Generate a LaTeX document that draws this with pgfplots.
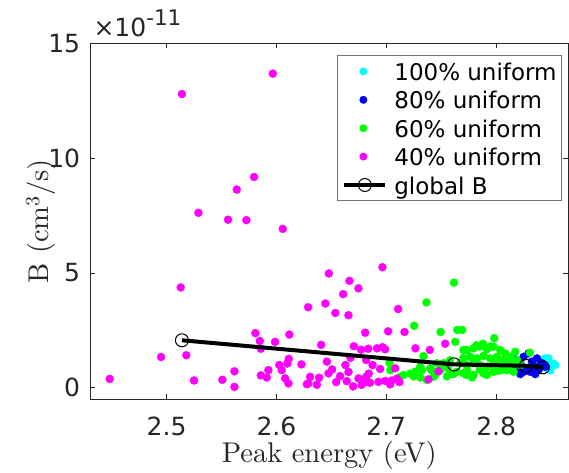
\documentclass[border=0pt]{standalone}
\usepackage{fontspec}
\usepackage{pgfplots}
\usepackage{pgfplotstable}
\pgfplotsset{compat=1.18}
\newfontfamily\dejavu{DejaVu Sans}
\newfontfamily\lmten{lmroman10-regular.otf}
\definecolor{mgray}{rgb}{0.15,0.15,0.15}
\definecolor{mcyan}{rgb}{0,1,1}
\definecolor{mblue}{rgb}{0,0,1}
\definecolor{mgreen}{rgb}{0,1,0}
\definecolor{mmagenta}{rgb}{1,0,1}

% 100% uniform
\pgfplotstableread{
x y
2.8432 1.21
2.8447 1.28
2.8463 1.14
2.8477 1.28
2.8493 0.77
2.8508 0.99
2.8520 1.05
2.8538 0.99
2.8460 0.85
}\datacyan

% 80% uniform
\pgfplotstableread{
x y
2.8159 1.28
2.8190 0.99
2.8200 0.85
2.8220 0.60
2.8220 1.07
2.8250 1.35
2.8250 0.70
2.8280 0.85
2.8295 1.50
2.8310 0.70
2.8326 1.14
2.8340 0.95
2.8356 0.60
2.8372 1.28
2.8386 0.77
2.8400 0.90
2.8417 1.07
2.8447 0.92
}\datablue

% 60% uniform
\pgfplotstableread{
x y
2.7029 1.09
2.7036 0.77
2.7127 0.48
2.7157 0.56
2.7218 0.62
2.7250 0.50
2.7254 2.70
2.7263 0.70
2.7309 0.45
2.7309 0.92
2.7324 0.77
2.7339 1.38
2.7366 3.72
2.7370 0.34
2.7400 0.85
2.7415 0.74
2.7430 0.48
2.7450 0.60
2.7461 1.07
2.7491 0.77
2.7494 2.43
2.7521 1.07
2.7552 0.50
2.7560 0.85
2.7580 1.20
2.7597 0.60
2.7612 0.60
2.7616 4.58
2.7628 2.00
2.7643 0.70
2.7646 2.52
2.7673 1.07
2.7691 2.52
2.7700 1.30
2.7703 1.65
2.7703 0.63
2.7728 0.56
2.7734 1.65
2.7734 0.99
2.7734 0.77
2.7764 1.35
2.7780 0.45
2.7794 1.72
2.7794 1.07
2.7794 0.56
2.7820 1.85
2.7825 1.28
2.7849 1.79
2.7850 0.80
2.7855 0.99
2.7880 1.92
2.7885 1.39
2.7885 0.63
2.7916 1.68
2.7916 0.92
2.7916 0.56
2.7946 1.28
2.7950 1.80
2.7976 1.79
2.7976 0.99
2.7976 0.70
2.7983 2.16
2.8000 1.10
2.8007 1.35
2.8022 0.74
2.8037 1.65
2.8037 0.92
2.8053 0.77
2.8067 1.21
2.8083 1.50
2.8098 1.07
2.8098 0.77
2.8128 1.35
2.8144 0.92
2.8150 1.20
2.8159 0.70
2.8174 1.57
2.8190 1.21
2.8220 0.99
2.8308 1.53
}\datagreen

% 40% uniform
\pgfplotstableread{
x y
2.4483 0.39
2.4950 1.34
2.5129 4.37
2.5140 12.79
2.5180 1.42
2.5250 0.32
2.5290 7.62
2.5508 0.35
2.5560 7.32
2.5618 0.72
2.5618 0.04
2.5639 8.63
2.5727 7.30
2.5797 9.18
2.5809 2.38
2.5849 2.04
2.5858 1.70
2.5858 0.54
2.5912 0.45
2.5927 0.77
2.5967 13.68
2.5988 2.00
2.6027 0.99
2.6049 0.77
2.6058 6.92
2.6080 0.41
2.6100 1.06
2.6110 0.19
2.6113 1.26
2.6118 2.32
2.6228 1.02
2.6277 0.16
2.6289 3.51
2.6291 0.19
2.6307 0.48
2.6368 0.13
2.6389 0.44
2.6407 1.87
2.6446 3.67
2.6459 1.14
2.6474 0.63
2.6477 4.98
2.6507 0.80
2.6537 3.26
2.6544 0.25
2.6580 0.51
2.6607 4.08
2.6628 0.99
2.6641 0.29
2.6656 3.16
2.6656 0.69
2.6665 4.66
2.6674 1.31
2.6698 0.06
2.6705 1.81
2.6747 4.33
2.6747 0.41
2.6771 1.66
2.6775 0.13
2.6799 0.22
2.6808 2.40
2.6817 1.21
2.6817 0.48
2.6840 0.62
2.6837 1.70
2.6853 0.22
2.6875 0.99
2.6915 1.72
2.6929 0.26
2.6944 0.82
2.6965 5.25
2.6966 1.77
2.6990 1.68
2.6990 0.30
2.7017 2.46
2.7035 0.15
2.7051 0.32
2.7081 0.85
2.7097 0.40
2.7108 3.43
2.7120 0.25
2.7166 2.43
2.7266 1.72
2.7384 0.37
2.7397 1.65
2.7475 0.72
2.7536 1.92
}\datamagenta

% global B
\pgfplotstableread{
x y
2.5140 2.07
2.7616 1.02
2.8271 0.96
2.8426 0.89
}\dataglobal

\begin{document}
\begin{tikzpicture}
\begin{axis}[
  scale only axis, width=478pt, height=356pt,
  xmin=2.4306, xmax=2.8657, ymin=-0.5, ymax=15,
  xtick={2.5,2.6,2.7,2.8}, ytick={0,5,10,15},
  scaled ticks=false,
  clip mode=individual, clip marker paths=true,
  tick align=inside, major tick length=5pt,
  axis line style={mgray, line width=0.8pt},
  every tick/.style={mgray, line width=0.8pt},
  /pgf/number format/assume math mode=true,
  ticklabel style={font=\dejavu\fontsize{25}{30}\selectfont, text=mgray},
  xticklabel style={anchor=north, inner sep=0pt, yshift=-17pt},
  yticklabel style={anchor=east, inner sep=0pt, xshift=-10pt},
  xlabel={Peak energy (eV)},
  ylabel={B (cm\textsuperscript{3}/s)},
  xlabel style={at={(axis description cs:0.5,-0.177)}, anchor=base,
    font=\lmten\fontsize{28.5}{34}\selectfont, text=mgray},
  ylabel style={at={(axis description cs:-0.088,0.5)}, anchor=base,
    font=\lmten\fontsize{28.5}{34}\selectfont, text=mgray},
  legend cell align=left,
  legend style={at={(0.5167,0.966)}, anchor=north west,
    draw=black!55, line width=0.8pt, fill=white,
    inner xsep=4.7pt, inner ysep=4.6pt, row sep=6.4pt, column sep=7pt,
    font=\dejavu\fontsize{23}{27}\selectfont,
    nodes={inner sep=0pt, text height=20pt, text depth=2pt}},
]
\addplot[only marks, mark=*, mark size=4pt, color=mcyan,
  legend image code/.code={\path[draw=none] (0pt,0pt) -- (41pt,0pt); \fill[mcyan, draw=none] (19pt,0pt) circle (4pt);}]
  table[x=x, y=y] {\datacyan};
\addlegendentry{100\% uniform}
\addplot[only marks, mark=*, mark size=4pt, color=mblue,
  legend image code/.code={\path[draw=none] (0pt,0pt) -- (41pt,0pt); \fill[mblue, draw=none] (19pt,0pt) circle (4pt);}]
  table[x=x, y=y] {\datablue};
\addlegendentry{80\% uniform}
\addplot[only marks, mark=*, mark size=4pt, color=mgreen,
  legend image code/.code={\path[draw=none] (0pt,0pt) -- (41pt,0pt); \fill[mgreen, draw=none] (19pt,0pt) circle (4pt);}]
  table[x=x, y=y] {\datagreen};
\addlegendentry{60\% uniform}
\addplot[only marks, mark=*, mark size=4pt, color=mmagenta,
  legend image code/.code={\path[draw=none] (0pt,0pt) -- (41pt,0pt); \fill[mmagenta, draw=none] (19pt,0pt) circle (4pt);}]
  table[x=x, y=y] {\datamagenta};
\addlegendentry{40\% uniform}
\addplot[black, line width=4pt, mark=o, mark size=6.5pt, mark options={line width=1pt},
  legend image code/.code={\draw[black, line width=4pt] (0pt,0pt) -- (41pt,0pt);
    \draw[black, line width=1pt] (20.5pt,0pt) circle (6.5pt);}]
  table[x=x, y=y] {\dataglobal};
\addlegendentry{global B}
\node[anchor=base west, inner sep=0pt, text=mgray, font=\dejavu\fontsize{25}{30}\selectfont]
  at (rel axis cs:0,1) [xshift=3pt, yshift=7pt]
  {×10\raisebox{11pt}{\fontsize{21.5}{24}\selectfont -11}};
\end{axis}
\pgfresetboundingbox
\path[use as bounding box] (-90.3pt,-72.8pt) rectangle (478.7pt,399.3pt);
\end{tikzpicture}
\end{document}
